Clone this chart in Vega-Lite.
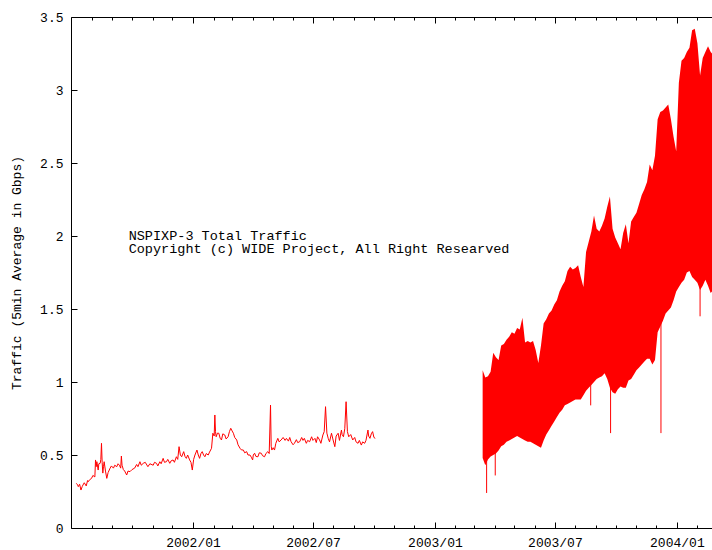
{
  "$schema": "https://vega.github.io/schema/vega-lite/v6.json",
  "width": 641,
  "height": 511,
  "autosize": {"type": "none"},
  "padding": {"left": 71, "top": 17, "right": 0, "bottom": 22},
  "background": "white",
  "config": {
    "view": {"stroke": null},
    "axis": {
      "domainColor": "black",
      "domainWidth": 1,
      "tickColor": "black",
      "tickWidth": 1,
      "grid": false,
      "labelFont": "Liberation Mono",
      "labelFontSize": 13,
      "labelColor": "black",
      "titleFont": "Liberation Mono",
      "titleFontSize": 13,
      "titleFontWeight": "normal",
      "titleColor": "black",
      "labelFlush": false,
      "labelOverlap": false,
      "labelBound": false
    }
  },
  "datasets": {
    "early": [
      {"d": "2001-07-09", "v": 0.306}, {"d": "2001-07-11", "v": 0.295}, {"d": "2001-07-12", "v": 0.283},
      {"d": "2001-07-14", "v": 0.30}, {"d": "2001-07-16", "v": 0.26}, {"d": "2001-07-18", "v": 0.285},
      {"d": "2001-07-19", "v": 0.294}, {"d": "2001-07-21", "v": 0.31}, {"d": "2001-07-24", "v": 0.288},
      {"d": "2001-07-26", "v": 0.325}, {"d": "2001-07-27", "v": 0.317}, {"d": "2001-07-29", "v": 0.33},
      {"d": "2001-08-01", "v": 0.34}, {"d": "2001-08-03", "v": 0.36}, {"d": "2001-08-06", "v": 0.35},
      {"d": "2001-08-07", "v": 0.466}, {"d": "2001-08-08", "v": 0.42}, {"d": "2001-08-09", "v": 0.454},
      {"d": "2001-08-11", "v": 0.397}, {"d": "2001-08-12", "v": 0.44}, {"d": "2001-08-14", "v": 0.443},
      {"d": "2001-08-15", "v": 0.47}, {"d": "2001-08-16", "v": 0.58}, {"d": "2001-08-17", "v": 0.45},
      {"d": "2001-08-18", "v": 0.376}, {"d": "2001-08-19", "v": 0.42}, {"d": "2001-08-20", "v": 0.454},
      {"d": "2001-08-22", "v": 0.39}, {"d": "2001-08-24", "v": 0.34}, {"d": "2001-08-26", "v": 0.38},
      {"d": "2001-08-29", "v": 0.41}, {"d": "2001-08-31", "v": 0.425}, {"d": "2001-09-03", "v": 0.41},
      {"d": "2001-09-05", "v": 0.43}, {"d": "2001-09-08", "v": 0.42}, {"d": "2001-09-10", "v": 0.44},
      {"d": "2001-09-12", "v": 0.43}, {"d": "2001-09-14", "v": 0.41}, {"d": "2001-09-15", "v": 0.493},
      {"d": "2001-09-16", "v": 0.43}, {"d": "2001-09-18", "v": 0.40}, {"d": "2001-09-20", "v": 0.39},
      {"d": "2001-09-23", "v": 0.363}, {"d": "2001-09-25", "v": 0.39}, {"d": "2001-09-28", "v": 0.386},
      {"d": "2001-10-01", "v": 0.40}, {"d": "2001-10-05", "v": 0.41}, {"d": "2001-10-08", "v": 0.435},
      {"d": "2001-10-10", "v": 0.42}, {"d": "2001-10-13", "v": 0.454}, {"d": "2001-10-15", "v": 0.43},
      {"d": "2001-10-18", "v": 0.443}, {"d": "2001-10-21", "v": 0.45}, {"d": "2001-10-25", "v": 0.42},
      {"d": "2001-10-28", "v": 0.44}, {"d": "2001-11-02", "v": 0.43}, {"d": "2001-11-04", "v": 0.45},
      {"d": "2001-11-07", "v": 0.443}, {"d": "2001-11-09", "v": 0.425}, {"d": "2001-11-12", "v": 0.454},
      {"d": "2001-11-14", "v": 0.44}, {"d": "2001-11-17", "v": 0.477}, {"d": "2001-11-19", "v": 0.45},
      {"d": "2001-11-22", "v": 0.454}, {"d": "2001-11-24", "v": 0.47}, {"d": "2001-11-27", "v": 0.443},
      {"d": "2001-11-29", "v": 0.46}, {"d": "2001-12-02", "v": 0.466}, {"d": "2001-12-04", "v": 0.45},
      {"d": "2001-12-07", "v": 0.488}, {"d": "2001-12-09", "v": 0.47}, {"d": "2001-12-11", "v": 0.557},
      {"d": "2001-12-13", "v": 0.50}, {"d": "2001-12-15", "v": 0.488}, {"d": "2001-12-18", "v": 0.523},
      {"d": "2001-12-20", "v": 0.49}, {"d": "2001-12-22", "v": 0.477}, {"d": "2001-12-24", "v": 0.50},
      {"d": "2001-12-27", "v": 0.466}, {"d": "2001-12-29", "v": 0.45}, {"d": "2001-12-31", "v": 0.397},
      {"d": "2002-01-02", "v": 0.47}, {"d": "2002-01-04", "v": 0.50}, {"d": "2002-01-07", "v": 0.534},
      {"d": "2002-01-09", "v": 0.50}, {"d": "2002-01-11", "v": 0.477}, {"d": "2002-01-13", "v": 0.51},
      {"d": "2002-01-15", "v": 0.523}, {"d": "2002-01-17", "v": 0.50}, {"d": "2002-01-19", "v": 0.488},
      {"d": "2002-01-21", "v": 0.51}, {"d": "2002-01-24", "v": 0.50}, {"d": "2002-01-26", "v": 0.52},
      {"d": "2002-01-29", "v": 0.546}, {"d": "2002-01-31", "v": 0.649}, {"d": "2002-02-02", "v": 0.63},
      {"d": "2002-02-03", "v": 0.774}, {"d": "2002-02-04", "v": 0.66}, {"d": "2002-02-05", "v": 0.625},
      {"d": "2002-02-07", "v": 0.65}, {"d": "2002-02-09", "v": 0.649}, {"d": "2002-02-11", "v": 0.615},
      {"d": "2002-02-13", "v": 0.603}, {"d": "2002-02-15", "v": 0.645}, {"d": "2002-02-18", "v": 0.637},
      {"d": "2002-02-20", "v": 0.61}, {"d": "2002-02-23", "v": 0.625}, {"d": "2002-02-25", "v": 0.66},
      {"d": "2002-02-27", "v": 0.683}, {"d": "2002-03-01", "v": 0.665}, {"d": "2002-03-03", "v": 0.649},
      {"d": "2002-03-05", "v": 0.62}, {"d": "2002-03-08", "v": 0.603}, {"d": "2002-03-10", "v": 0.57},
      {"d": "2002-03-13", "v": 0.546}, {"d": "2002-03-15", "v": 0.535}, {"d": "2002-03-18", "v": 0.534},
      {"d": "2002-03-20", "v": 0.515}, {"d": "2002-03-23", "v": 0.523}, {"d": "2002-03-25", "v": 0.50},
      {"d": "2002-03-28", "v": 0.50}, {"d": "2002-03-30", "v": 0.485}, {"d": "2002-04-01", "v": 0.466},
      {"d": "2002-04-02", "v": 0.50}, {"d": "2002-04-04", "v": 0.512}, {"d": "2002-04-06", "v": 0.49},
      {"d": "2002-04-09", "v": 0.488}, {"d": "2002-04-11", "v": 0.515}, {"d": "2002-04-14", "v": 0.512},
      {"d": "2002-04-16", "v": 0.495}, {"d": "2002-04-19", "v": 0.488}, {"d": "2002-04-21", "v": 0.51},
      {"d": "2002-04-24", "v": 0.523}, {"d": "2002-04-26", "v": 0.51}, {"d": "2002-04-28", "v": 0.842},
      {"d": "2002-04-29", "v": 0.56}, {"d": "2002-04-30", "v": 0.534}, {"d": "2002-05-02", "v": 0.55},
      {"d": "2002-05-04", "v": 0.534}, {"d": "2002-05-06", "v": 0.58}, {"d": "2002-05-09", "v": 0.614},
      {"d": "2002-05-11", "v": 0.59}, {"d": "2002-05-14", "v": 0.603}, {"d": "2002-05-17", "v": 0.62},
      {"d": "2002-05-20", "v": 0.60}, {"d": "2002-05-22", "v": 0.614}, {"d": "2002-05-25", "v": 0.595},
      {"d": "2002-05-27", "v": 0.62}, {"d": "2002-05-29", "v": 0.591}, {"d": "2002-06-01", "v": 0.57},
      {"d": "2002-06-03", "v": 0.58}, {"d": "2002-06-06", "v": 0.605}, {"d": "2002-06-08", "v": 0.585},
      {"d": "2002-06-11", "v": 0.591}, {"d": "2002-06-14", "v": 0.62}, {"d": "2002-06-16", "v": 0.60},
      {"d": "2002-06-18", "v": 0.614}, {"d": "2002-06-21", "v": 0.58}, {"d": "2002-06-23", "v": 0.60},
      {"d": "2002-06-26", "v": 0.591}, {"d": "2002-06-29", "v": 0.625}, {"d": "2002-07-01", "v": 0.60},
      {"d": "2002-07-04", "v": 0.614}, {"d": "2002-07-06", "v": 0.585}, {"d": "2002-07-08", "v": 0.625},
      {"d": "2002-07-11", "v": 0.603}, {"d": "2002-07-13", "v": 0.58}, {"d": "2002-07-16", "v": 0.637},
      {"d": "2002-07-18", "v": 0.66}, {"d": "2002-07-20", "v": 0.831}, {"d": "2002-07-22", "v": 0.65},
      {"d": "2002-07-24", "v": 0.614}, {"d": "2002-07-26", "v": 0.59}, {"d": "2002-07-29", "v": 0.649},
      {"d": "2002-07-31", "v": 0.61}, {"d": "2002-08-03", "v": 0.557}, {"d": "2002-08-05", "v": 0.63},
      {"d": "2002-08-08", "v": 0.649}, {"d": "2002-08-10", "v": 0.60}, {"d": "2002-08-13", "v": 0.671},
      {"d": "2002-08-14", "v": 0.64}, {"d": "2002-08-16", "v": 0.625}, {"d": "2002-08-18", "v": 0.68},
      {"d": "2002-08-20", "v": 0.865}, {"d": "2002-08-22", "v": 0.66}, {"d": "2002-08-24", "v": 0.625},
      {"d": "2002-08-27", "v": 0.64}, {"d": "2002-08-30", "v": 0.603}, {"d": "2002-09-02", "v": 0.62},
      {"d": "2002-09-04", "v": 0.59}, {"d": "2002-09-07", "v": 0.58}, {"d": "2002-09-09", "v": 0.60},
      {"d": "2002-09-12", "v": 0.568}, {"d": "2002-09-14", "v": 0.59}, {"d": "2002-09-17", "v": 0.58},
      {"d": "2002-09-19", "v": 0.60}, {"d": "2002-09-22", "v": 0.671}, {"d": "2002-09-23", "v": 0.63},
      {"d": "2002-09-25", "v": 0.614}, {"d": "2002-09-27", "v": 0.645}, {"d": "2002-09-29", "v": 0.66},
      {"d": "2002-10-01", "v": 0.62}, {"d": "2002-10-03", "v": 0.614}
    ],
    "band": [
      {"d": "2003-03-14", "lo": 0.48, "hi": 1.08}, {"d": "2003-03-18", "lo": 0.43, "hi": 1.03},
      {"d": "2003-03-22", "lo": 0.47, "hi": 1.04}, {"d": "2003-03-26", "lo": 0.49, "hi": 1.07},
      {"d": "2003-03-30", "lo": 0.50, "hi": 1.20}, {"d": "2003-04-03", "lo": 0.51, "hi": 1.17},
      {"d": "2003-04-07", "lo": 0.53, "hi": 1.15}, {"d": "2003-04-11", "lo": 0.56, "hi": 1.25},
      {"d": "2003-04-15", "lo": 0.57, "hi": 1.26}, {"d": "2003-04-19", "lo": 0.59, "hi": 1.29},
      {"d": "2003-04-23", "lo": 0.60, "hi": 1.31}, {"d": "2003-04-27", "lo": 0.61, "hi": 1.34},
      {"d": "2003-05-01", "lo": 0.62, "hi": 1.33}, {"d": "2003-05-05", "lo": 0.63, "hi": 1.37},
      {"d": "2003-05-09", "lo": 0.62, "hi": 1.36}, {"d": "2003-05-13", "lo": 0.61, "hi": 1.44},
      {"d": "2003-05-17", "lo": 0.60, "hi": 1.27}, {"d": "2003-05-21", "lo": 0.59, "hi": 1.28},
      {"d": "2003-05-25", "lo": 0.59, "hi": 1.27}, {"d": "2003-05-29", "lo": 0.58, "hi": 1.28},
      {"d": "2003-06-02", "lo": 0.57, "hi": 1.22}, {"d": "2003-06-06", "lo": 0.56, "hi": 1.13},
      {"d": "2003-06-10", "lo": 0.55, "hi": 1.25}, {"d": "2003-06-14", "lo": 0.60, "hi": 1.40},
      {"d": "2003-06-18", "lo": 0.64, "hi": 1.43}, {"d": "2003-06-22", "lo": 0.67, "hi": 1.47},
      {"d": "2003-06-26", "lo": 0.70, "hi": 1.49}, {"d": "2003-06-30", "lo": 0.73, "hi": 1.53},
      {"d": "2003-07-04", "lo": 0.76, "hi": 1.56}, {"d": "2003-07-08", "lo": 0.79, "hi": 1.62},
      {"d": "2003-07-12", "lo": 0.81, "hi": 1.66}, {"d": "2003-07-16", "lo": 0.84, "hi": 1.69},
      {"d": "2003-07-20", "lo": 0.85, "hi": 1.76}, {"d": "2003-07-24", "lo": 0.86, "hi": 1.79},
      {"d": "2003-07-28", "lo": 0.87, "hi": 1.77}, {"d": "2003-08-01", "lo": 0.88, "hi": 1.78},
      {"d": "2003-08-05", "lo": 0.88, "hi": 1.80}, {"d": "2003-08-09", "lo": 0.88, "hi": 1.72},
      {"d": "2003-08-13", "lo": 0.91, "hi": 1.65}, {"d": "2003-08-17", "lo": 0.94, "hi": 1.89},
      {"d": "2003-08-21", "lo": 0.96, "hi": 1.96}, {"d": "2003-08-25", "lo": 0.98, "hi": 2.03},
      {"d": "2003-08-29", "lo": 1.00, "hi": 2.14}, {"d": "2003-09-02", "lo": 1.02, "hi": 2.05},
      {"d": "2003-09-06", "lo": 1.03, "hi": 2.03}, {"d": "2003-09-10", "lo": 1.04, "hi": 2.07},
      {"d": "2003-09-14", "lo": 1.06, "hi": 2.12}, {"d": "2003-09-18", "lo": 1.02, "hi": 2.20},
      {"d": "2003-09-22", "lo": 0.96, "hi": 2.27}, {"d": "2003-09-26", "lo": 0.93, "hi": 2.05},
      {"d": "2003-09-30", "lo": 0.92, "hi": 1.99}, {"d": "2003-10-04", "lo": 0.95, "hi": 1.95},
      {"d": "2003-10-08", "lo": 0.97, "hi": 1.91}, {"d": "2003-10-12", "lo": 0.96, "hi": 2.02},
      {"d": "2003-10-16", "lo": 0.96, "hi": 2.08}, {"d": "2003-10-20", "lo": 1.01, "hi": 1.95},
      {"d": "2003-10-24", "lo": 1.02, "hi": 2.10}, {"d": "2003-10-28", "lo": 1.05, "hi": 2.13},
      {"d": "2003-11-01", "lo": 1.08, "hi": 2.16}, {"d": "2003-11-05", "lo": 1.10, "hi": 2.22},
      {"d": "2003-11-09", "lo": 1.12, "hi": 2.28}, {"d": "2003-11-13", "lo": 1.14, "hi": 2.32},
      {"d": "2003-11-17", "lo": 1.16, "hi": 2.37}, {"d": "2003-11-21", "lo": 1.16, "hi": 2.49},
      {"d": "2003-11-25", "lo": 1.12, "hi": 2.45}, {"d": "2003-11-29", "lo": 1.15, "hi": 2.55},
      {"d": "2003-12-03", "lo": 1.34, "hi": 2.80}, {"d": "2003-12-07", "lo": 1.38, "hi": 2.85},
      {"d": "2003-12-11", "lo": 1.42, "hi": 2.86}, {"d": "2003-12-15", "lo": 1.47, "hi": 2.88},
      {"d": "2003-12-19", "lo": 1.49, "hi": 2.90}, {"d": "2003-12-23", "lo": 1.51, "hi": 2.80},
      {"d": "2003-12-27", "lo": 1.56, "hi": 2.68}, {"d": "2003-12-31", "lo": 1.62, "hi": 2.58},
      {"d": "2004-01-04", "lo": 1.65, "hi": 3.05}, {"d": "2004-01-08", "lo": 1.68, "hi": 3.20},
      {"d": "2004-01-12", "lo": 1.70, "hi": 3.22}, {"d": "2004-01-16", "lo": 1.75, "hi": 3.26},
      {"d": "2004-01-20", "lo": 1.76, "hi": 3.29}, {"d": "2004-01-24", "lo": 1.72, "hi": 3.41},
      {"d": "2004-01-28", "lo": 1.70, "hi": 3.42}, {"d": "2004-02-01", "lo": 1.68, "hi": 3.32},
      {"d": "2004-02-05", "lo": 1.63, "hi": 3.10}, {"d": "2004-02-09", "lo": 1.66, "hi": 3.22},
      {"d": "2004-02-13", "lo": 1.70, "hi": 3.26}, {"d": "2004-02-17", "lo": 1.66, "hi": 3.30},
      {"d": "2004-02-21", "lo": 1.61, "hi": 3.26}, {"d": "2004-02-23", "lo": 1.62, "hi": 3.25}
    ],
    "spikes": [
      {"d": "2003-03-20", "lo": 0.24, "hi": 0.9},
      {"d": "2003-04-02", "lo": 0.36, "hi": 0.9},
      {"d": "2003-08-24", "lo": 0.84, "hi": 1.5},
      {"d": "2003-09-23", "lo": 0.65, "hi": 1.5},
      {"d": "2003-12-08", "lo": 0.65, "hi": 1.8},
      {"d": "2004-02-05", "lo": 1.45, "hi": 2.5}
    ],
    "notes": [
      {"d": "2001-09-26", "v": 1.973, "label": "NSPIXP-3 Total Traffic\nCopyright (c) WIDE Project, All Right Researved"}
    ]
  },
  "resolve": {"axis": {"x": "independent"}},
  "layer": [
    {
      "data": {"name": "early"},
      "mark": {"type": "line", "color": "#ff0000", "strokeWidth": 1},
      "encoding": {
        "x": {
          "field": "d", "type": "temporal",
          "scale": {"type": "utc", "domain": [{"year": 2001, "month": 7, "date": 1, "utc": true}, {"year": 2004, "month": 2, "date": 23, "utc": true}]},
          "axis": {
            "orient": "bottom", "title": null,
            "values": [
              {"year": 2001, "month": 8, "date": 1, "utc": true}, {"year": 2001, "month": 9, "date": 1, "utc": true},
              {"year": 2001, "month": 10, "date": 1, "utc": true}, {"year": 2001, "month": 11, "date": 1, "utc": true},
              {"year": 2001, "month": 12, "date": 1, "utc": true}, {"year": 2002, "month": 1, "date": 1, "utc": true},
              {"year": 2002, "month": 2, "date": 1, "utc": true}, {"year": 2002, "month": 3, "date": 1, "utc": true},
              {"year": 2002, "month": 4, "date": 1, "utc": true}, {"year": 2002, "month": 5, "date": 1, "utc": true},
              {"year": 2002, "month": 6, "date": 1, "utc": true}, {"year": 2002, "month": 7, "date": 1, "utc": true},
              {"year": 2002, "month": 8, "date": 1, "utc": true}, {"year": 2002, "month": 9, "date": 1, "utc": true},
              {"year": 2002, "month": 10, "date": 1, "utc": true}, {"year": 2002, "month": 11, "date": 1, "utc": true},
              {"year": 2002, "month": 12, "date": 1, "utc": true}, {"year": 2003, "month": 1, "date": 1, "utc": true},
              {"year": 2003, "month": 2, "date": 1, "utc": true}, {"year": 2003, "month": 3, "date": 1, "utc": true},
              {"year": 2003, "month": 4, "date": 1, "utc": true}, {"year": 2003, "month": 5, "date": 1, "utc": true},
              {"year": 2003, "month": 6, "date": 1, "utc": true}, {"year": 2003, "month": 7, "date": 1, "utc": true},
              {"year": 2003, "month": 8, "date": 1, "utc": true}, {"year": 2003, "month": 9, "date": 1, "utc": true},
              {"year": 2003, "month": 10, "date": 1, "utc": true}, {"year": 2003, "month": 11, "date": 1, "utc": true},
              {"year": 2003, "month": 12, "date": 1, "utc": true}, {"year": 2004, "month": 1, "date": 1, "utc": true},
              {"year": 2004, "month": 2, "date": 1, "utc": true}
            ],
            "labelExpr": "utcmonth(datum.value) % 6 == 0 ? utcFormat(datum.value, '%Y/%m') : ''",
            "tickSize": {"condition": {"test": "utcmonth(datum.value) % 6 == 0", "value": -6}, "value": -3},
            "labelPadding": 14
          }
        },
        "y": {
          "field": "v", "type": "quantitative",
          "title": "Traffic (5min Average in Gbps)",
          "scale": {"domain": [0, 3.5], "nice": false, "zero": true},
          "axis": {
            "values": [0, 0.5, 1, 1.5, 2, 2.5, 3, 3.5],
            "format": "~g",
            "tickSize": -6,
            "labelPadding": 14,
            "title": "Traffic (5min Average in Gbps)",
            "titlePadding": 16
          }
        }
      }
    },
    {
      "data": {"name": "band"},
      "mark": {"type": "area", "color": "#ff0000", "clip": true},
      "encoding": {
        "x": {
          "field": "d", "type": "temporal",
          "axis": {
            "orient": "top", "title": null, "labels": false,
            "values": [
              {"year": 2001, "month": 8, "date": 1, "utc": true}, {"year": 2001, "month": 9, "date": 1, "utc": true},
              {"year": 2001, "month": 10, "date": 1, "utc": true}, {"year": 2001, "month": 11, "date": 1, "utc": true},
              {"year": 2001, "month": 12, "date": 1, "utc": true}, {"year": 2002, "month": 1, "date": 1, "utc": true},
              {"year": 2002, "month": 2, "date": 1, "utc": true}, {"year": 2002, "month": 3, "date": 1, "utc": true},
              {"year": 2002, "month": 4, "date": 1, "utc": true}, {"year": 2002, "month": 5, "date": 1, "utc": true},
              {"year": 2002, "month": 6, "date": 1, "utc": true}, {"year": 2002, "month": 7, "date": 1, "utc": true},
              {"year": 2002, "month": 8, "date": 1, "utc": true}, {"year": 2002, "month": 9, "date": 1, "utc": true},
              {"year": 2002, "month": 10, "date": 1, "utc": true}, {"year": 2002, "month": 11, "date": 1, "utc": true},
              {"year": 2002, "month": 12, "date": 1, "utc": true}, {"year": 2003, "month": 1, "date": 1, "utc": true},
              {"year": 2003, "month": 2, "date": 1, "utc": true}, {"year": 2003, "month": 3, "date": 1, "utc": true},
              {"year": 2003, "month": 4, "date": 1, "utc": true}, {"year": 2003, "month": 5, "date": 1, "utc": true},
              {"year": 2003, "month": 6, "date": 1, "utc": true}, {"year": 2003, "month": 7, "date": 1, "utc": true},
              {"year": 2003, "month": 8, "date": 1, "utc": true}, {"year": 2003, "month": 9, "date": 1, "utc": true},
              {"year": 2003, "month": 10, "date": 1, "utc": true}, {"year": 2003, "month": 11, "date": 1, "utc": true},
              {"year": 2003, "month": 12, "date": 1, "utc": true}, {"year": 2004, "month": 1, "date": 1, "utc": true},
              {"year": 2004, "month": 2, "date": 1, "utc": true}
            ],
            "tickSize": {"condition": {"test": "utcmonth(datum.value) % 6 == 0", "value": -6}, "value": -3}
          }
        },
        "y": {"field": "lo", "type": "quantitative", "title": "Traffic (5min Average in Gbps)"},
        "y2": {"field": "hi"}
      }
    },
    {
      "data": {"name": "spikes"},
      "mark": {"type": "rule", "color": "#ff0000", "strokeWidth": 1},
      "encoding": {
        "x": {"field": "d", "type": "temporal", "axis": null},
        "y": {"field": "lo", "type": "quantitative", "title": "Traffic (5min Average in Gbps)"},
        "y2": {"field": "hi"}
      }
    },
    {
      "data": {"name": "notes"},
      "mark": {"type": "text", "align": "left", "baseline": "alphabetic", "font": "Liberation Mono", "fontSize": 13.5, "lineHeight": 13, "lineBreak": "\n", "color": "black"},
      "encoding": {
        "x": {"field": "d", "type": "temporal", "axis": null},
        "y": {"field": "v", "type": "quantitative", "title": "Traffic (5min Average in Gbps)"},
        "text": {"field": "label"}
      }
    }
  ]
}
